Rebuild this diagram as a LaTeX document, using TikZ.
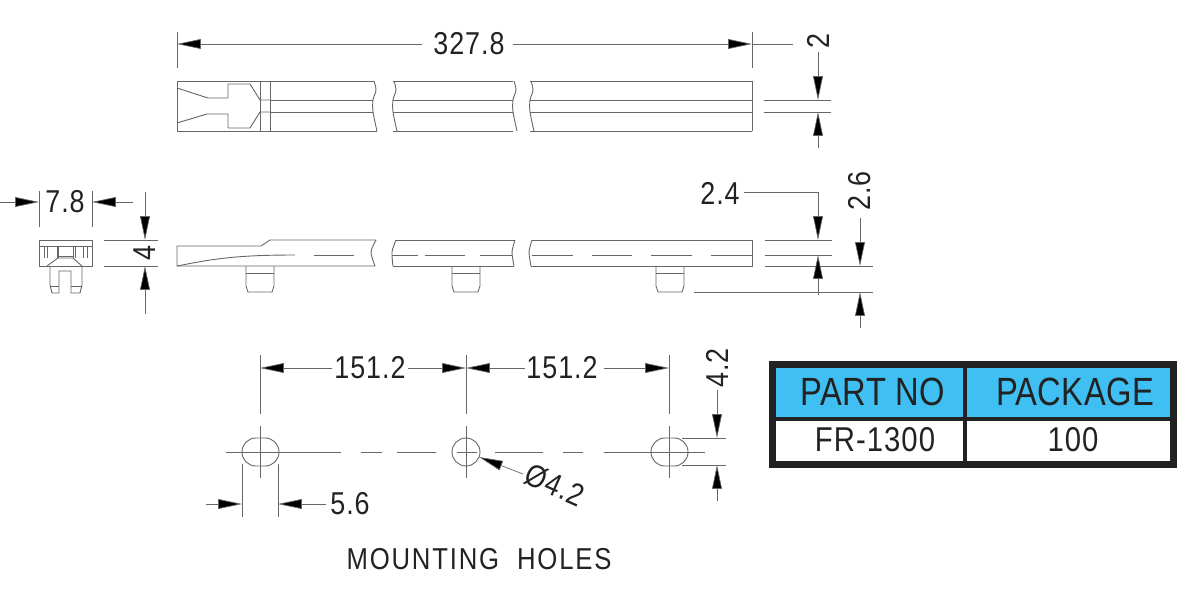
\documentclass[tikz,border=0pt]{standalone}
\usepackage{fontspec}
\setmainfont[FakeStretch=0.85,LetterSpace=3]{Liberation Sans}
\newfontfamily\HeadFont[FakeStretch=0.83,LetterSpace=1]{Liberation Sans}
\newfontfamily\CaptionFont[FakeStretch=0.85,LetterSpace=6]{Liberation Sans}
\usetikzlibrary{arrows.meta}
\definecolor{HeadBlue}{HTML}{40BFF3}
\definecolor{InkGray}{HTML}{666666}
\definecolor{TextDark}{HTML}{222222}

\begin{document}
\begin{tikzpicture}
[
x=0.025cm, y=-0.025cm,
PartLine/.style={draw=InkGray, line width=0.65pt, line join=round},
DimLine/.style={draw=InkGray, line width=0.5pt},
DimTip/.style={DimLine, -{Triangle[length=17pt, width=7pt, fill=black]}},
DimText/.style={inner sep=0pt, text=TextDark, font=\fontsize{22.5}{24}\selectfont},
HeadText/.style={inner sep=0pt, text=TextDark, font=\HeadFont\fontsize{28}{30}\selectfont},
CellText/.style={inner sep=0pt, text=TextDark, font=\fontsize{24.5}{26}\selectfont}
]
\useasboundingbox (0,0) rectangle (1200,610);

% top view
\draw[PartLine] (374,81) -- (177,81) -- (177,131) -- (377,131);
\draw[PartLine] (177,88) -- (208,98) -- (228,98) -- (228,84) -- (250,84) -- (260,100) -- (270,100);
\draw[PartLine] (177,123) -- (207,114) -- (228,114) -- (228,128) -- (250,128) -- (260,112) -- (270,112);
\draw[PartLine] (260,81) -- (260,131);
\draw[PartLine] (270,81) -- (270,131);
\foreach \y in {100,112} \draw[PartLine] (270,\y) -- (373,\y);
\foreach \xa/\xb in {393/513, 530/752} {
  \foreach \y in {81,100,112,131} \draw[PartLine] (\xa,\y) -- (\xb,\y);
}
\draw[PartLine] (752,81) -- (752,131);
\foreach \bx in {373,393,513,530} {
  \draw[PartLine] plot[smooth] coordinates {(\bx+1,81) (\bx+3,90) (\bx,100) (\bx,112) (\bx+4,131)};
}

% 327.8
\node[DimText] (Length) at (469,44) {327.8};
\draw[DimLine] (177,32) -- (177,68);
\draw[DimLine] (752,32) -- (752,68);
\draw[DimTip] (422,44) -- (177,44);
\draw[DimTip] (513,44) -- (752,44);
\draw[DimLine] (752,44) -- (793,44);

% 2
\node[DimText, rotate=90] (Gap) at (818,41) {2};
\draw[DimLine] (764,100) -- (831,100);
\draw[DimLine] (764,112) -- (831,112);
\draw[DimTip] (818,52) -- (818,100);
\draw[DimTip] (818,148) -- (818,112);

% end view
\draw[PartLine] (39,240) rectangle (92,266);
\draw[PartLine] (39,246) -- (92,246);
\foreach \x in {44,47,57,58,73,75,83,87} \draw[PartLine] (\x,246) -- (\x,258);
\draw[PartLine] (58,256) -- (73,256);
\draw[PartLine] (47,266) -- (58,258) -- (73,258) -- (82,266);
\draw[PartLine] (50,266) -- (50,285) -- (52,293) -- (59,293) -- (59,271) -- (71,271) -- (71,293) -- (80,293) -- (82,285) -- (82,266);
\draw[PartLine] (50,286) -- (59,286);
\draw[PartLine] (71,286) -- (82,286);

% 7.8
\node[DimText] (EndWidth) at (65,202) {7.8};
\draw[DimLine] (39,191) -- (39,227);
\draw[DimLine] (92,191) -- (92,227);
\draw[DimTip] (0,202) -- (39,202);
\draw[DimTip] (133,202) -- (92,202);

% 4
\node[DimText, rotate=90] (EndHeight) at (145,253) {4};
\draw[DimLine] (104,240) -- (158,240);
\draw[DimLine] (104,266) -- (158,266);
\draw[DimTip] (145,192) -- (145,240);
\draw[DimTip] (145,314) -- (145,266);

% side view
\draw[PartLine] (376,240) -- (270,240) -- (261,246) -- (177,246) -- (177,266) -- (375,266);
\draw[PartLine] (177,266) .. controls (213,259) and (235,255) .. (295,255);
\foreach \xa/\xb in {314/354, 392/418, 425/465, 480/512, 532/573, 592/632, 651/692, 711/752}
  \draw[PartLine] (\xa,255) -- (\xb,255);
\draw[PartLine] (396,240) -- (515,240);
\draw[PartLine] (393,266) -- (514,266);
\draw[PartLine] (532,240) -- (752,240) -- (752,266) -- (531,266);
\foreach \xa/\xc/\xb in {376/371/375, 396/392/393, 515/512/514, 532/529/531} {
  \draw[PartLine] plot[smooth] coordinates {(\xa,240) (\xc,252) (\xb,266)};
}
\foreach \x in {246,452,656} {
  \draw[PartLine] (\x,266) -- (\x,286) -- (\x+2,292) -- (\x+26,292) -- (\x+28,286) -- (\x+28,266);
  \draw[PartLine] (\x,273) -- (\x+28,273);
}

% 2.4 and 2.6
\node[DimText] (Step) at (720,193) {2.4};
\node[DimText, rotate=90] (Total) at (860,191) {2.6};
\draw[DimLine] (765,240) -- (832,240);
\draw[DimLine] (765,255) -- (832,255);
\draw[DimLine] (765,266) -- (873,266);
\draw[DimLine] (694,292) -- (873,292);
\draw[DimTip] (744,192) -- (818,192) -- (818,240);
\draw[DimTip] (818,295) -- (818,255);
\draw[DimTip] (860,218) -- (860,266);
\draw[DimTip] (860,328) -- (860,292);

% mounting holes
\draw[PartLine, rounded corners=13.9pt*0.711] (242,438) rectangle (279,466);
\draw[PartLine, rounded corners=13.9pt*0.711] (651,438) rectangle (688,466);
\draw[PartLine] (466,452) circle [radius=14];
\foreach \x in {260,466,669} \draw[DimLine] (\x,426) -- (\x,478);
\foreach \xa/\xb in {226/341, 361/382, 397/436, 457/477, 495/543, 563/583, 604/705}
  \draw[DimLine] (\xa,452) -- (\xb,452);

% 151.2
\node[DimText] (PitchA) at (370,368) {151.2};
\node[DimText] (PitchB) at (562,368) {151.2};
\foreach \x in {260,466,669} \draw[DimLine] (\x,355) -- (\x,414);
\draw[DimTip] (332,368) -- (260,368);
\draw[DimTip] (408,368) -- (466,368);
\draw[DimTip] (525,368) -- (466,368);
\draw[DimTip] (604,368) -- (669,368);

% 5.6
\node[DimText] (SlotLen) at (350,504) {5.6};
\draw[DimLine] (242,464) -- (242,517);
\draw[DimLine] (278,464) -- (278,517);
\draw[DimTip] (206,504) -- (242,504);
\draw[DimTip] (326,504) -- (278,504);

% dia 4.2
\node[DimText, rotate=-24] (HoleDia) at (555,485) {Ø4.2};
\draw[DimTip] (523,474) -- (479,457);

% 4.2
\node[DimText, rotate=90] (SlotWid) at (717,368) {4.2};
\draw[DimLine] (682,438) -- (726,438);
\draw[DimLine] (682,465) -- (726,465);
\draw[DimTip] (717,390) -- (717,438);
\draw[DimTip] (717,501) -- (717,465);

\node[DimText, font=\CaptionFont\fontsize{21.5}{24}\selectfont] (Caption) at (479,559) {MOUNTING\ \ HOLES};

% table
\node[draw=TextDark, line width=5pt, fill=white, minimum width=401*0.711pt, minimum height=100*0.711pt, inner sep=0pt] (Table) at (973,414.5) {};
\fill[HeadBlue] (776,368) rectangle (1170,418);
\draw[TextDark, line width=2.5pt] (776,419) -- (1170,419);
\draw[TextDark, line width=2.5pt] (965,368) -- (965,461);
\node[HeadText] (PartHead) at (873,392) {PART NO};
\node[HeadText] (PackHead) at (1075,392) {PACKAGE};
\node[CellText] (PartCell) at (875,440) {FR-1300};
\node[CellText] (PackCell) at (1073,440) {100};
\end{tikzpicture}
\end{document}
